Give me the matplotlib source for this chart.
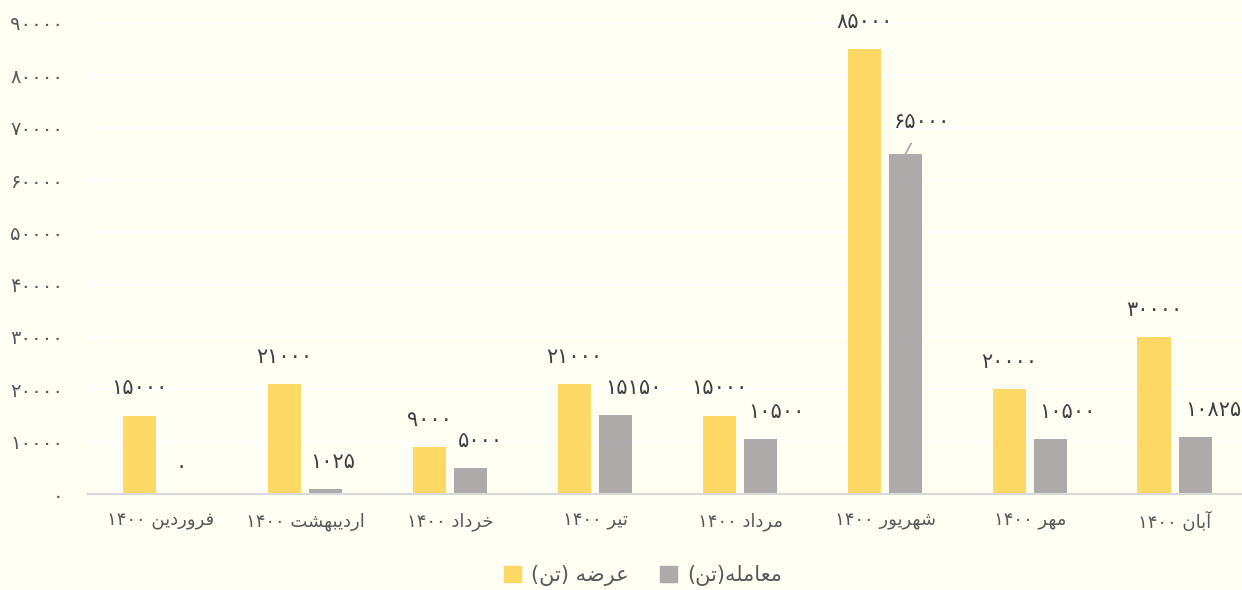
import matplotlib
matplotlib.use("Agg")
import matplotlib.pyplot as plt
from matplotlib.patches import Patch
import numpy as np

# data
months = ["فروردین ۱۴۰۰", "اردیبهشت ۱۴۰۰", "خرداد ۱۴۰۰", "تیر ۱۴۰۰",
          "مرداد ۱۴۰۰", "شهریور ۱۴۰۰", "مهر ۱۴۰۰", "آبان ۱۴۰۰"]
supply = [15000, 21000, 9000, 21000, 15000, 85000, 20000, 30000]
traded = [0, 1025, 5000, 15150, 10500, 65000, 10500, 10825]
supply_name = "عرضه (تن)"
traded_name = "معامله(تن)"
yticks = [0, 10000, 20000, 30000, 40000, 50000, 60000, 70000, 80000, 90000]

# manual arabic shaping (matplotlib has no bidi / joining)
FORMS = {
    'ا': ('\uFE8D', '\uFE8E', None, None),
    'آ': ('\uFE81', '\uFE82', None, None),
    'ب': ('\uFE8F', '\uFE90', '\uFE91', '\uFE92'),
    'ت': ('\uFE95', '\uFE96', '\uFE97', '\uFE98'),
    'خ': ('\uFEA5', '\uFEA6', '\uFEA7', '\uFEA8'),
    'د': ('\uFEA9', '\uFEAA', None, None),
    'ر': ('\uFEAD', '\uFEAE', None, None),
    'ش': ('\uFEB5', '\uFEB6', '\uFEB7', '\uFEB8'),
    'ض': ('\uFEBD', '\uFEBE', '\uFEBF', '\uFEC0'),
    'ع': ('\uFEC9', '\uFECA', '\uFECB', '\uFECC'),
    'ف': ('\uFED1', '\uFED2', '\uFED3', '\uFED4'),
    'ل': ('\uFEDD', '\uFEDE', '\uFEDF', '\uFEE0'),
    'م': ('\uFEE1', '\uFEE2', '\uFEE3', '\uFEE4'),
    'ن': ('\uFEE5', '\uFEE6', '\uFEE7', '\uFEE8'),
    'ه': ('\uFEE9', '\uFEEA', '\uFEEB', '\uFEEC'),
    'و': ('\uFEED', '\uFEEE', None, None),
    'ی': ('\uFEEF', '\uFEF0', '\uFEF3', '\uFEF4'),
}


def shape_word(w):
    out = []
    for i, c in enumerate(w):
        if c not in FORMS:
            out.append(c)
            continue
        prev = w[i - 1] if i > 0 else None
        nxt = w[i + 1] if i < len(w) - 1 else None
        join_prev = prev in FORMS and FORMS[prev][2] is not None
        join_next = nxt in FORMS and FORMS[c][2] is not None
        iso, fin, ini, med = FORMS[c]
        if join_prev and join_next:
            out.append(med)
        elif join_prev:
            out.append(fin)
        elif join_next:
            out.append(ini)
        else:
            out.append(iso)
    return ''.join(out)


def rtl(s):
    # words in reverse order, letters reversed, digit runs kept left to right
    mirror = {'(': ')', ')': '('}
    parts = []
    for word in s.split(' '):
        if all('\u06F0' <= ch <= '\u06F9' for ch in word):
            parts.append(word)
        else:
            shaped = shape_word(word)
            parts.append(''.join(mirror.get(ch, ch) for ch in reversed(shaped)))
    return ' '.join(reversed(parts))


def fa_num(n):
    return str(n).translate(str.maketrans('0123456789', '۰۱۲۳۴۵۶۷۸۹'))


plt.rcParams['font.family'] = ['DejaVu Sans']
bg = '#FFFEF2'
yellow = '#FFD966'
gray = '#AEAAAA'
txt = '#595959'
lab_col = '#404040'

fig = plt.figure(figsize=(12.42, 5.90), dpi=100, facecolor=bg)
ax = fig.add_axes([88 / 1242, 1 - 494 / 590, 1159.5 / 1242, 471 / 590], facecolor=bg)

x = np.arange(len(months))
w = 0.228
ax.bar(x - 0.145, supply, w, color=yellow, zorder=3)
ax.bar(x + 0.141, traded, w, color=gray, zorder=3)

ax.set_xlim(-0.5, 7.5)
ax.set_ylim(0, 90000)
ax.set_yticks(yticks)
ax.set_yticklabels([fa_num(v) for v in yticks], fontsize=14, color=txt)
ax.set_xticks(x)
ax.set_xticklabels([rtl(m) for m in months], fontsize=13, color=txt)
ax.tick_params(axis='y', length=0, pad=18)
ax.tick_params(axis='x', length=0, pad=13)
ax.grid(axis='y', color='#FFFFFF', lw=1.2, zorder=0)
for s in ['top', 'right', 'left']:
    ax.spines[s].set_visible(False)
ax.spines['bottom'].set_color('#D9D9D9')
ax.spines['bottom'].set_linewidth(1.5)
ax.spines['bottom'].set_zorder(4)

for xi, v in zip(x, supply):
    ax.annotate(fa_num(v), (xi - 0.145, v), xytext=(0, 19.5), textcoords='offset points',
                ha='center', va='center', fontsize=15, color=lab_col)

gray_dx = [0, 5, 7, 13, 11, 0, 12, 13]
for i, (xi, v) in enumerate(zip(x, traded)):
    if i == 5:
        ax.annotate(fa_num(v), (xi + 0.141, v), xytext=(12, 23), textcoords='offset points',
                    ha='center', va='center', fontsize=15, color=lab_col,
                    arrowprops=dict(arrowstyle='-', color='#A6A6A6', lw=1.2,
                                    shrinkA=7, shrinkB=0))
    else:
        ax.annotate(fa_num(v), (xi + 0.141, v), xytext=(gray_dx[i], 19.5),
                    textcoords='offset points', ha='center', va='center',
                    fontsize=15, color=lab_col)

handles = [Patch(color=yellow, label=rtl(supply_name)),
           Patch(color=gray, label=rtl(traded_name))]
fig.legend(handles=handles, loc='center', bbox_to_anchor=(643 / 1242, 1 - 576 / 590),
           ncol=2, frameon=False, fontsize=15, labelcolor=txt,
           handlelength=0.8, handleheight=0.8, handletextpad=0.5, columnspacing=1.5)

fig.savefig('out.png', dpi=100, facecolor=bg)
